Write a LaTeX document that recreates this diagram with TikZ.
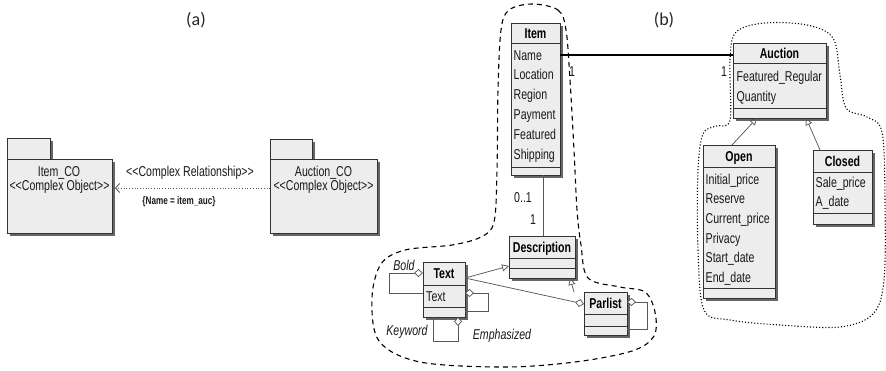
\documentclass[tikz,border=0pt]{standalone}
\usepackage{fontspec}
\newfontfamily\umlfont{Liberation Sans}[FakeStretch=0.74]
\newfontfamily\capfont{Carlito}
\usetikzlibrary{shadows,arrows.meta}

\tikzset{
  x=1pt, y=-1pt,
  boxshadow/.style={drop shadow={shadow xshift=3pt, shadow yshift=-3pt, fill=black!60, opacity=1}},
  clsbox/.style={draw=black!80, fill=black!7, line width=0.8pt, inner sep=0pt, outer sep=0pt, boxshadow},
  sep/.style={draw=black!80, line width=0.8pt},
  hdr/.style={font=\umlfont\fontsize{14.3}{16}\selectfont\bfseries, text=black, inner sep=0pt, anchor=base},
  attr/.style={font=\umlfont\fontsize{14.3}{16}\selectfont, text=black!90, inner sep=0pt, anchor=base west},
  note/.style={font=\umlfont\fontsize{14.3}{16}\selectfont, text=black!90, inner sep=0pt},
  smallnote/.style={font=\umlfont\fontsize{11}{13}\selectfont\bfseries, text=black!90, inner sep=0pt},
  role/.style={font=\umlfont\fontsize{14.3}{16}\selectfont\itshape, text=black!90, inner sep=0pt},
  link/.style={draw=black!65, line width=0.75pt},
  gen/.style={link, -{Triangle[open, length=7pt, width=7pt]}},
  agg/.style={link, {Diamond[fill=white, length=9pt, width=8pt]}-},
  aggend/.style={link, -{Diamond[fill=white, length=9pt, width=8pt]}},
}

% class box: name, x1, y1, x2, y2, first separator, second separator, title
\newcommand\classbox[8]{%
  \node[clsbox, minimum width={#4-#2}, minimum height={#5-#3}, anchor=north west] (#1) at (#2,#3) {};
  \draw[sep] (#2,#6) -- (#4,#6);
  \draw[sep] (#2,#7) -- (#4,#7);
  \node[hdr] (#1-title) at ({(#2+#4)/2},{(#3+#6)/2+5}) {#8};
}

\begin{document}
\begin{tikzpicture}
\useasboundingbox (0,0) rectangle (886,370);

% panel captions
\node[font=\capfont\fontsize{18}{20}\selectfont, text=black!85] (capa) at (196,20) {(a)};
\node[font=\capfont\fontsize{18}{20}\selectfont, text=black!85] (capb) at (664,20) {(b)};

% ---------- (a) complex objects ----------
\node[clsbox, minimum width=43, minimum height=21, anchor=north west] (itemco-tab) at (7,138) {};
\node[clsbox, minimum width=105, minimum height=74, anchor=north west] (itemco) at (7,159) {};
\node[note] (itemco-name) at (59,173) {Item\_CO};
\node[note] (itemco-st) at (59.5,187) {<<Complex Object>>};

\node[clsbox, minimum width=42, minimum height=21, anchor=north west] (auctionco-tab) at (270,139) {};
\node[clsbox, minimum width=107, minimum height=74, anchor=north west] (auctionco) at (270,159) {};
\node[note] (auctionco-name) at (323.5,173) {Auction\_CO};
\node[note] (auctionco-st) at (323.5,187) {<<Complex Object>>};

\draw[link, dotted, line width=0.9pt, -{Straight Barb[length=4pt, width=9pt]}]
  ([yshift=8pt]auctionco.west) -- ([xshift=3pt, yshift=8pt]itemco.east);
\node[note] (rel) at (190,173) {<<Complex Relationship>>};
\node[smallnote] (relname) at (179,202) {\{Name = item\_auc\}};

% ---------- (b) item side ----------
\draw[dashed, line width=1.1pt, dash pattern=on 5pt off 4pt]
  plot[smooth cycle, tension=0.55] coordinates {
    (532,4) (558,10) (566,30) (570,80) (574,150) (577,210) (581,245) (588,278)
    (620,287) (645,292) (655,312) (654,336) (632,351) (575,362) (505,367)
    (420,362) (379,341) (372,298) (381,264) (405,250) (452,245) (481,237)
    (494,222) (497,170) (498,90) (501,30) (509,10)};

\classbox{item}{511}{23}{560}{175}{43}{167}{Item}
\foreach \t [count=\i] in {Name,Location,Region,Payment,Featured,Shipping}
  \node[attr] (item-a\i) at (513.5,{60+(\i-1)*19.8}) {\t};

\classbox{descr}{509}{236}{575}{278}{258}{268}{Description}

\classbox{text}{423}{262}{465}{317}{285}{307}{Text}
\node[attr] (text-a1) at (426,301) {Text};

\classbox{parlist}{584}{292}{627}{335}{314}{326}{Parlist}

% ---------- (b) auction side ----------
\draw[dotted, line width=1.1pt]
  plot[smooth cycle, tension=0.55] coordinates {
    (730,120) (730,60) (736,32) (765,23) (807,25) (833,38) (840,75) (846,108)
    (867,117) (882,132) (885,200) (884,280) (873,314) (840,327) (780,325)
    (730,320) (704,310) (698,250) (698,170) (703,134) (716,126)};

\classbox{auction}{733}{43}{826}{118}{63}{108}{Auction}
\foreach \t [count=\i] in {Featured\_Regular,Quantity}
  \node[attr] (auction-a\i) at (736.5,{81+(\i-1)*20}) {\t};

\classbox{open}{703}{145}{775}{298}{167}{288}{Open}
\foreach \t [count=\i] in {Initial\_price,Reserve,Current\_price,Privacy,Start\_date,End\_date}
  \node[attr] (open-a\i) at (705.5,{184+(\i-1)*19.7}) {\t};

\classbox{closed}{813}{150}{872}{224}{172}{213}{Closed}
\foreach \t [count=\i] in {Sale\_price,A\_date}
  \node[attr] (closed-a\i) at (815.5,{187+(\i-1)*19.5}) {\t};

% ---------- connectors ----------
\draw[line width=2.2pt, black] (item.east |- item-a1) -- (auction.west |- item-a1);
\node[note] (m-item) at (572,72) {1};
\node[note] (m-auction) at (724,72) {1};

\draw[link] ([xshift=7.5pt]item.south) -- ([xshift=7.5pt]item.south |- descr.north);
\node[note] (m-desc1) at (523,198) {0..1};
\node[note] (m-desc2) at (533,220) {1};

\coordinate (tjoin) at ([yshift=-16pt]text.north east);
\draw[gen] (tjoin) -- ([yshift=-30pt]descr.north west);
\draw[aggend] (tjoin) -- ([yshift=-12pt]parlist.north west);
\draw[gen] ([xshift=-31.5pt]parlist.north) -- ([xshift=28pt]descr.south);

% self associations
\draw[agg] ([yshift=-11pt]text.north west) -- ++(-34,0) |- ([yshift=-31pt]text.north west);
\draw[agg] ([yshift=-31pt]text.north east) -- ++(23,0) |- ([yshift=-49pt]text.north east);
\draw[agg] ([xshift=14pt]text.south) -- ++(0,24) -| ([xshift=-11pt]text.south);
\draw[agg] ([yshift=-10pt]parlist.north east) -- ++(20,0) |- ([yshift=-37pt]parlist.north east);

\node[role] (r-bold) at (404,265) {Bold};
\node[role] (r-key) at (407,332) {Keyword};
\node[role] (r-emph) at (502,336) {Emphasized};

% generalisations to Auction
\draw[gen] ([xshift=-7pt]open.north) -- ([xshift=-22.5pt]auction.south);
\draw[gen] ([xshift=-22.5pt]closed.north) -- ([xshift=26.5pt]auction.south);
\end{tikzpicture}
\end{document}
